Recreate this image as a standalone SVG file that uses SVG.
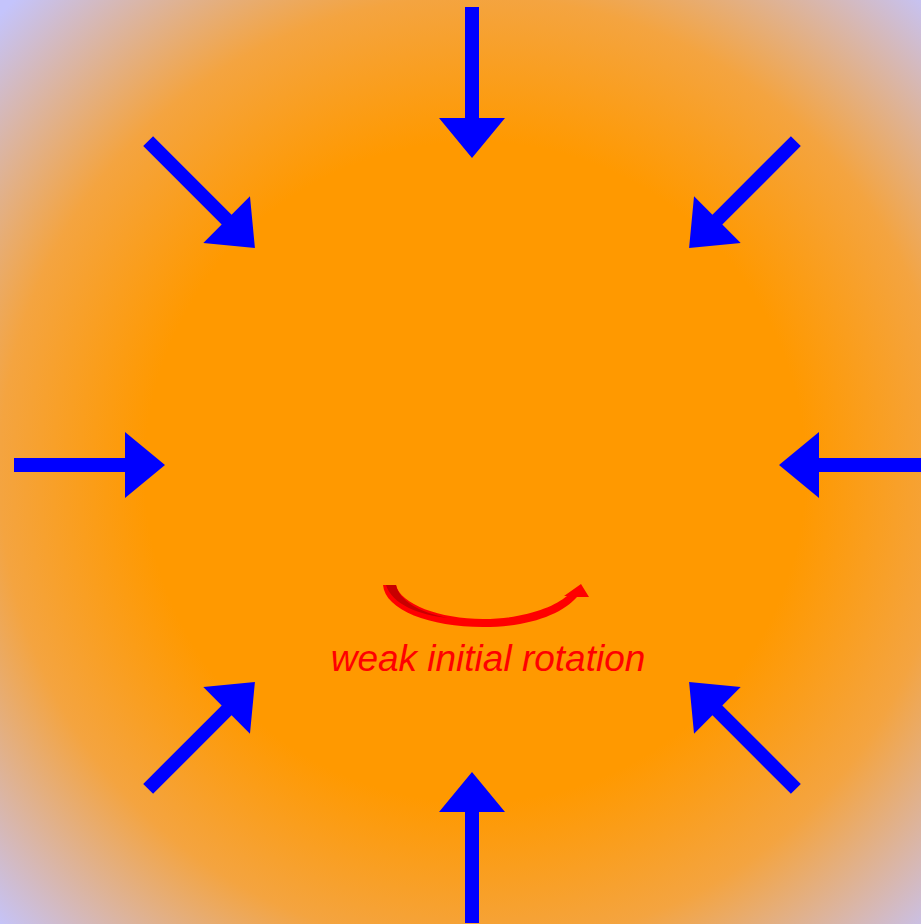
<svg xmlns="http://www.w3.org/2000/svg" width="921" height="924" viewBox="0 0 921 924">
  <defs>
    <radialGradient id="bg" gradientUnits="userSpaceOnUse" cx="475" cy="472" r="660">
      <stop offset="0" stop-color="#ff9900"/>
      <stop offset="0.5" stop-color="#ff9900"/>
      <stop offset="0.72" stop-color="#f4a440"/>
      <stop offset="1" stop-color="#c4c4fc"/>
    </radialGradient>
    <path id="arr" d="M-7,-458 L7,-458 L7,-347 L33,-347 L0,-307 L-33,-347 L-7,-347 Z"/>
  </defs>
  <style>
    .inflow { fill: #0000ff; }
    .label { font-family: "Liberation Sans", Arial, sans-serif; font-style: italic; font-size: 37px; fill: #ff0000; }
  </style>
  <rect x="0" y="0" width="921" height="924" fill="url(#bg)"/>
  <g id="connectors" class="inflow" transform="translate(472,465)">
    <use href="#arr" transform="rotate(0)"/>
    <use href="#arr" transform="rotate(45)"/>
    <use href="#arr" transform="rotate(90)"/>
    <use href="#arr" transform="rotate(135)"/>
    <use href="#arr" transform="rotate(180)"/>
    <use href="#arr" transform="rotate(225)"/>
    <use href="#arr" transform="rotate(270)"/>
    <use href="#arr" transform="rotate(315)"/>
  </g>
  <g id="rotation">
    <path d="M383,585 L396,585 C400,604 440,619 483,619 C524,619 554,607 567,596 L564,596 L581,584 L589,597 L577,597 C562,614 530,627 483,627 C430,627 385,610 383,585 Z" fill="#ff0000"/>
    <path d="M386,585 L396,585 C399,600 418,612 448,618 C418,615 392,604 386,585 Z" fill="#c80000"/>
    <text class="label" x="488" y="671" text-anchor="middle">weak initial rotation</text>
  </g>
</svg>
